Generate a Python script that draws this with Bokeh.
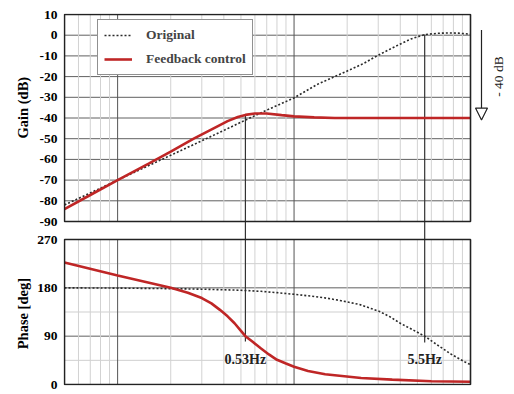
import math
from bokeh.plotting import figure
from bokeh.models import (Range1d, FixedTicker, Legend, LegendItem, Label,
                          Arrow, NormalHead, LinearAxis)
from bokeh.core.properties import value
from bokeh.embed import file_html
from bokeh.resources import INLINE

# ---------------- data ----------------
orig_gain_freq = [0.05, 0.07, 0.1, 0.15, 0.2, 0.3, 0.4, 0.53, 0.7, 1.0, 1.35,
                  1.6, 2.1, 2.5, 2.95, 3.45, 3.95, 4.6, 5.5, 6.5, 7.5, 8.5, 10.0]
orig_gain_db = [-82.0, -76.2, -70.0, -63.0, -58.0, -51.0, -46.0, -41.0, -36.2,
                -30.3, -23.8, -21.0, -16.5, -13.5, -10.0, -7.0, -4.5, -1.8,
                0.3, 0.9, 1.1, 1.0, 0.5]

fb_gain_freq = [0.05, 0.07, 0.1, 0.15, 0.2, 0.27, 0.35, 0.42, 0.48, 0.53, 0.6,
                0.7, 0.85, 1.0, 1.3, 1.7, 2.2, 3.0, 5.0, 10.0]
fb_gain_db = [-84.0, -77.2, -70.0, -62.0, -56.2, -50.0, -45.0, -41.5, -39.5,
              -38.5, -37.8, -37.8, -38.6, -39.2, -39.7, -40.0, -40.0, -40.0,
              -40.0, -40.0]

orig_phase_freq = [0.05, 0.1, 0.2, 0.3, 0.5, 0.65, 0.8, 1.0, 1.3, 1.55, 1.85,
                   2.35, 3.05, 3.5, 4.0, 4.7, 5.5, 6.4, 7.8, 9.3, 10.0]
orig_phase_deg = [180, 179.5, 178.5, 177.5, 175.5, 173.5, 171, 168, 164,
                  160.5, 156, 149, 136, 126, 114, 102, 90, 75, 56, 42, 37]

fb_phase_freq = [0.05, 0.1, 0.2, 0.25, 0.3, 0.34, 0.38, 0.42, 0.46, 0.5, 0.53,
                 0.58, 0.65, 0.72, 0.8, 0.9, 1.0, 1.2, 1.5, 2.4, 3.6, 6.0, 10.0]
fb_phase_deg = [227, 203, 180, 171, 161, 151, 139, 127, 114, 100, 90, 80, 67,
                56, 46, 39, 33, 25, 19, 12, 9, 6, 5]

marker_freqs = [0.53, 5.5]
marker_labels = ["0.53Hz", "5.5Hz"]

gain_ticks = [10, 0, -10, -20, -30, -40, -50, -60, -70, -80, -90]
phase_ticks = [270, 180, 90, 0]
phase_minor = [45, 135, 225]
reduction_db = -40
reduction_label = "- 40 dB"
gain_title = "Gain (dB)"
phase_title = "Phase [deg]"

F_LO, F_HI = 0.05, 10.0
G_LO, G_HI = -90, 10
P_LO, P_HI = 0, 270

# ---------------- layout (pixels) ----------------
FIG_W, FIG_H = 512, 392
B_LEFT, B_TOP, B_RIGHT, B_BOTTOM = 63, 13, 0, 7
FRAME_W = FIG_W - B_LEFT - B_RIGHT          # 449
FRAME_H = FIG_H - B_TOP - B_BOTTOM          # 372
BOX_X0, BOX_X1 = 1, 407                     # frame-relative pixels
GAIN_PX_TOP, GAIN_PX_BOT = 1, 208
PHASE_PX_TOP, PHASE_PX_BOT = 226, 371

px_per_dec = (BOX_X1 - BOX_X0) / math.log10(F_HI / F_LO)
x_start = F_LO * 10 ** (-BOX_X0 / px_per_dec)
x_end = F_HI * 10 ** ((FRAME_W - BOX_X1) / px_per_dec)

k_g = (GAIN_PX_BOT - GAIN_PX_TOP) / (G_HI - G_LO)
g_end = G_HI + GAIN_PX_TOP / k_g
g_start = G_HI - (FRAME_H - GAIN_PX_TOP) / k_g

k_p = (PHASE_PX_BOT - PHASE_PX_TOP) / (P_HI - P_LO)
p_end = P_HI + PHASE_PX_TOP / k_p
p_start = P_HI - (FRAME_H - PHASE_PX_TOP) / k_p


def phase_to_gain(ph):
    frac = (ph - p_start) / (p_end - p_start)
    return g_start + frac * (g_end - g_start)


def gain_to_phase(g):
    frac = (g - g_start) / (g_end - g_start)
    return p_start + frac * (p_end - p_start)


def x_offset(f, px):
    return f * 10 ** (px / px_per_dec)


SERIF = "Liberation Serif"
RED = "#bf2626"
DOT = "#2a2a2a"

p = figure(width=FIG_W, height=FIG_H, x_axis_type="log",
           x_range=Range1d(x_start, x_end), y_range=Range1d(g_start, g_end),
           output_backend="svg", toolbar_location=None,
           min_border_left=B_LEFT, min_border_right=B_RIGHT,
           min_border_top=B_TOP, min_border_bottom=B_BOTTOM)
p.extra_y_ranges = {"phase": Range1d(p_start, p_end)}
p.outline_line_color = None
p.background_fill_color = "white"
p.border_fill_color = "white"
p.xaxis.visible = False
p.xgrid.visible = False
p.ygrid.visible = False

# y axis: gain ticks + phase ticks on one shared axis
tick_pos = [float(t) for t in gain_ticks] + [phase_to_gain(t) for t in phase_ticks]
tick_txt = [str(t) for t in gain_ticks] + [str(t) for t in phase_ticks]
yax = p.yaxis[0]
yax.ticker = FixedTicker(ticks=tick_pos)
yax.major_label_overrides = dict(zip(tick_pos, tick_txt))
yax.axis_line_color = None
yax.major_tick_line_color = None
yax.minor_tick_line_color = None
yax.major_tick_out = 0
yax.major_tick_in = 0
yax.minor_tick_out = 0
yax.major_label_standoff = 6
yax.major_label_text_font = SERIF
yax.major_label_text_font_style = "bold"
yax.major_label_text_font_size = "13.5px"
yax.major_label_text_color = "black"

# panel titles, carried by an outer left axis
title_pos = [-35.0, phase_to_gain(132)]
tax = LinearAxis(ticker=FixedTicker(ticks=title_pos),
                 major_label_overrides=dict(zip(title_pos, [gain_title, phase_title])),
                 axis_line_color=None, major_tick_line_color=None,
                 minor_tick_line_color=None, major_tick_out=0, major_tick_in=0,
                 minor_tick_out=0, major_label_standoff=3,
                 major_label_orientation="parallel",
                 major_label_text_font=SERIF,
                 major_label_text_font_style="bold",
                 major_label_text_font_size="14.5px",
                 major_label_text_color="black")
p.add_layout(tax, "left")

# horizontal grid, per panel
dark_g = gain_ticks[1:-1]
p.segment(x0=[F_LO] * len(dark_g), x1=[F_HI] * len(dark_g), y0=dark_g,
          y1=dark_g, line_color="#606060", line_width=1)
dark_p = phase_ticks[1:-1]
p.segment(x0=[F_LO] * len(phase_minor), x1=[F_HI] * len(phase_minor),
          y0=phase_minor, y1=phase_minor, line_color="#cfcfcf", line_width=1,
          y_range_name="phase")
p.segment(x0=[F_LO] * len(dark_p), x1=[F_HI] * len(dark_p), y0=dark_p,
          y1=dark_p, line_color="#606060", line_width=1, y_range_name="phase")

# vertical grid, per panel
minor_v = [m * d for d in (0.01, 0.1, 1.0) for m in range(2, 10) if F_LO < m * d < F_HI]
major_v = [d for d in (0.1, 1.0) if F_LO < d < F_HI]
for xs, col in ((minor_v, "#d2d2d2"), (major_v, "#555555")):
    p.segment(x0=xs, x1=xs, y0=[G_LO] * len(xs), y1=[G_HI] * len(xs),
              line_color=col, line_width=1)
    p.segment(x0=xs, x1=xs, y0=[P_LO] * len(xs), y1=[P_HI] * len(xs),
              line_color=col, line_width=1, y_range_name="phase")

# marker lines (0.53 Hz on feedback gain, 5.5 Hz on original gain)
top_gain = [fb_gain_db[fb_gain_freq.index(marker_freqs[0])],
            orig_gain_db[orig_gain_freq.index(marker_freqs[1])]]
p.segment(x0=marker_freqs, x1=marker_freqs,
          y0=[gain_to_phase(g) for g in top_gain], y1=[80, 78],
          line_color="#333333", line_width=1.2, y_range_name="phase")

# curves
r_orig = p.line(orig_gain_freq, orig_gain_db, line_color=DOT, line_width=1.6,
                line_dash="2 2")
r_fb = p.line(fb_gain_freq, fb_gain_db, line_color=RED, line_width=2.6)
p.line(orig_phase_freq, orig_phase_deg, line_color=DOT, line_width=1.6,
       line_dash="2 2", y_range_name="phase")
p.line(fb_phase_freq, fb_phase_deg, line_color=RED, line_width=2.6,
       y_range_name="phase")

# panel boxes
p.quad(left=[F_LO], right=[F_HI], bottom=[G_LO], top=[G_HI], fill_color=None,
       line_color="#222222", line_width=1.6)
p.quad(left=[F_LO], right=[F_HI], bottom=[P_LO], top=[P_HI], fill_color=None,
       line_color="#222222", line_width=1.6, y_range_name="phase")

# marker labels
p.text(x=marker_freqs, y=[46, 46], text=marker_labels, y_range_name="phase",
       text_font=value(SERIF), text_font_style="bold", text_font_size="14px",
       text_align="center", text_baseline="middle", text_color="#222222")

# -40 dB arrow and text (right of the gain panel)
xa = x_offset(F_HI, 11)
p.add_layout(Arrow(x_start=xa, y_start=2.5, x_end=xa, y_end=reduction_db - 1,
                   line_width=1.2, line_color="#222222",
                   end=NormalHead(size=12, fill_color="white",
                                  line_color="#222222", line_width=1.2)))
p.add_layout(Label(x=x_offset(F_HI, 28), y=-20, text=reduction_label,
                   angle=math.pi / 2, text_font=SERIF, text_font_size="13.5px",
                   text_align="center", text_baseline="middle",
                   text_color="#222222"))

# legend
legend = Legend(items=[LegendItem(label="Original", renderers=[r_orig]),
                       LegendItem(label="Feedback control", renderers=[r_fb])],
                location=(34, 310), margin=0, padding=6, spacing=6,
                label_height=18, glyph_height=18, glyph_width=28,
                label_standoff=14, border_line_color="#222222",
                border_line_width=1.6, background_fill_alpha=1,
                label_text_font=SERIF, label_text_font_style="bold",
                label_text_font_size="13.5px")
p.add_layout(legend)

open("out.html", "w").write(file_html(p, INLINE))
